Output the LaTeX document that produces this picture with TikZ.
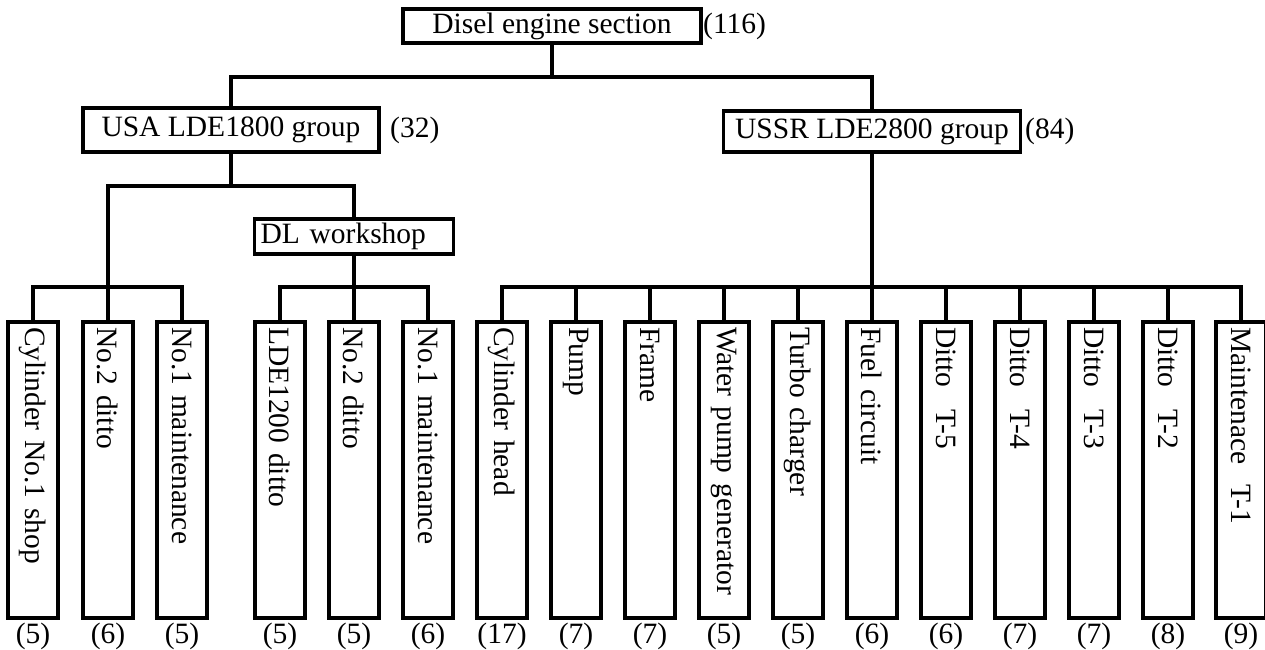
\documentclass[tikz,border=0pt]{standalone}
\usepackage{fontspec}
\setmainfont{Liberation Serif}
\begin{document}
\begin{tikzpicture}[x=1pt,y=-1pt,
  every node/.style={font=\fontsize{29.5}{32}\selectfont},
  box/.style={draw,line width=3.4pt,inner sep=0pt},
  leaf/.style={box,rotate=-90,minimum width=296pt,minimum height=50pt,text width=286pt,align=left,inner xsep=5pt},
  cnt/.style={inner sep=0pt},
  conn/.style={line width=3.2pt}]
\useasboundingbox (0,0) rectangle (1265,649);
% top level
\node[box,minimum width=298pt,minimum height=34pt] (top) at (552,26) {Disel engine section};
\node[cnt,anchor=west] (ctop) at (703,26) {(116)};
\node[box,minimum width=296pt,minimum height=44pt] (usa) at (231,130) {USA LDE1800 group};
\node[cnt,anchor=west] (cusa) at (390,130) {(32)};
\node[box,minimum width=297pt,minimum height=41pt] (ussr) at (872,131.5) {USSR LDE2800 group};
\node[cnt,anchor=west] (cussr) at (1025,131.5) {(84)};
\node[box,minimum height=35pt,text width=187pt,align=left,inner xsep=6pt] (dl) at (354,236.5) {DL workshop};
% leaves
\foreach \i/\x/\t/\c in {
  1/33/{Cylinder No.1 shop}/5,
  2/108/{No.2 ditto}/6,
  3/182/{No.1 maintenance}/5,
  4/280/{LDE1200 ditto}/5,
  5/354/{No.2 ditto}/5,
  6/428/{No.1 maintenance}/6,
  7/502/{Cylinder head}/17,
  8/576/{Pump}/7,
  9/650/{Frame}/7,
  10/724/{Water pump generator}/5,
  11/798/{Turbo charger}/5,
  12/872/{Fuel circuit}/6,
  13/946/{Ditto\hspace{22pt}T-5}/6,
  14/1020/{Ditto\hspace{22pt}T-4}/7,
  15/1094/{Ditto\hspace{22pt}T-3}/7,
  16/1168/{Ditto\hspace{22pt}T-2}/8,
  17/1241/{Maintenace\hspace{20pt}T-1}/9}{
  \node[leaf] (l\i) at (\x,470) {\t};
  \node[cnt] (c\i) at (\x,636) {(\c)};
}
% bus coordinates
\coordinate (b1) at (552,77);
\coordinate (b2) at (231,186);
\coordinate (b3) at (108,287);
\coordinate (b4) at (354,287);
\coordinate (b5) at (872,287);
% connectors
\draw[conn] (top.south) -- (b1);
\draw[conn] (usa.north) |- (b1) -| (ussr.north);
\draw[conn] (usa.south) -- (b2);
\draw[conn] (b3) |- (b2) -| (dl.north);
\draw[conn] (l1.west) |- (b3) -| (l3.west);
\draw[conn] (b3) -- (l2.west);
\draw[conn] (dl.south) -- (b4);
\draw[conn] (l4.west) |- (b4) -| (l6.west);
\draw[conn] (b4) -- (l5.west);
\draw[conn] (ussr.south) -- (b5);
\draw[conn] (l7.west) |- (b5) -| (l17.west);
\foreach \i in {8,9,10,11,12,13,14,15,16}{
  \draw[conn] (l\i.west |- b5) -- (l\i.west);
}
\end{tikzpicture}
\end{document}
